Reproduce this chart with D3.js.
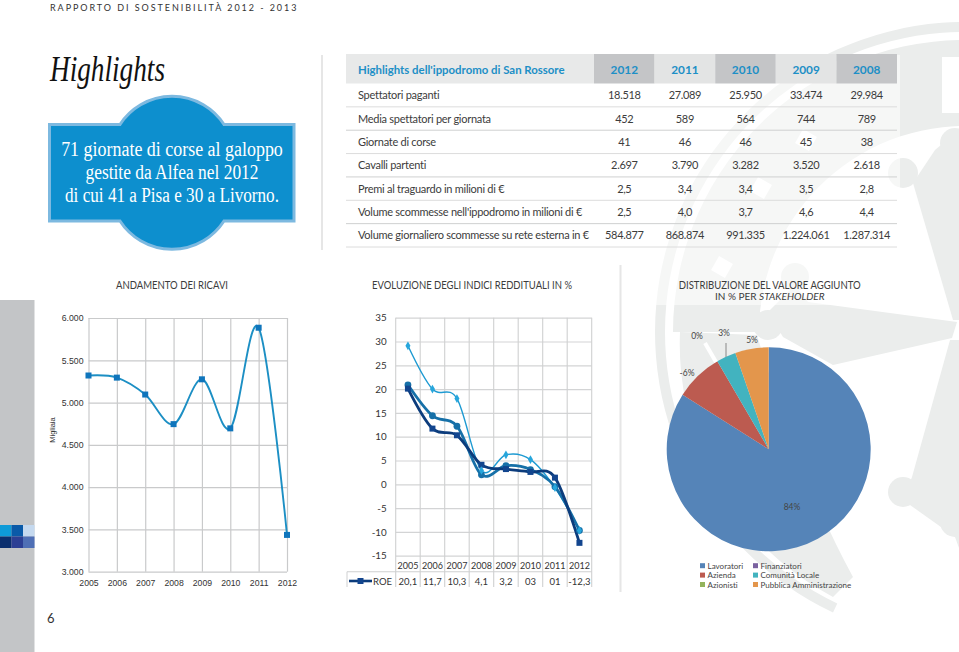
<!DOCTYPE html>
<html><head><meta charset="utf-8">
<script src="https://cdn.jsdelivr.net/npm/d3@7"></script>
<style>html,body{margin:0;padding:0;background:#fff}svg{display:block}text{font-family:Lato,sans-serif}</style>
</head><body><svg id="c" width="959" height="652"></svg>
<script>
const tableYears=["2012","2011","2010","2009","2008"];
const tableRowLabels=["Spettatori paganti","Media spettatori per giornata","Giornate di corse","Cavalli partenti","Premi al traguardo in milioni di €","Volume scommesse nell'ippodromo in milioni di €","Volume giornaliero scommesse su rete esterna in €"];
const tableValues=[["18.518","27.089","25.950","33.474","29.984"],["452","589","564","744","789"],["41","46","46","45","38"],["2.697","3.790","3.282","3.520","2.618"],["2,5","3,4","3,4","3,5","2,8"],["2,5","4,0","3,7","4,6","4,4"],["584.877","868.874","991.335","1.224.061","1.287.314"]];
const years=["2005","2006","2007","2008","2009","2010","2011","2012"];
const ricavi=[5320,5295,5095,4745,5275,4695,5885,3435];
const ricaviTicks=[3000,3500,4000,4500,5000,5500,6000];
const roe=[20.1,11.7,10.3,4.1,3.2,2.6,1.4,-12.3];
const roeLabels=["20,1","11,7","10,3","4,1","3,2","03","01","-12,3"];
const indiceB=[20.9,14.4,12.2,2.0,3.9,3.1,-0.5,-9.7];
const indiceC=[29.1,20.0,18.0,2.9,6.2,5.2,-0.7,-9.7];
const indiciTicks=[-15,-10,-5,0,5,10,15,20,25,30,35];
const pieNames=["Lavoratori","Azienda","Azionisti","Finanziatori","Comunità Locale","Pubblica Amministrazione"];
const pieValues=[84,7.6,0,0,3.1,5.3];
const pieColors=["#5584b8","#bc5b50","#93b35c","#7a62a0","#42b3bf","#e3964c"];

const svg=d3.select("#c");
const fmt=d3.format(",");
const it=n=>fmt(n).replace(/,/g,".");

/* watermark */
const wm=svg.append("g").attr("fill","#ebedec");
const wc=[965,332];
const arc=d3.arc();
function ring(r0,r1,a0,a1){wm.append("path").attr("transform",`translate(${wc})`).attr("d",arc({innerRadius:r0,outerRadius:r1,startAngle:a0,endAngle:a1}));}
ring(300,310,-Math.PI*0.86,0.1);
ring(206,292,-Math.PI*0.50,0.1);
wm.append("path").attr("d","M680 332 A285 285 0 0 0 833 597 L853 577 Q800 480 757 335Z");
wm.append("path").attr("d","M912 477L950 340L959 340L959 548L955 537L903 500Z");
wm.append("path").attr("d","M913 183L953 320L959 320L959 130L935 150Z");
wm.append("path").attr("d","M768 312L795 285L808 302L957 322L952 338L833 365L783 337Z");
[[903,173,15],[955,143,15],[795,277,14],[768,325,15],[903,492,15],[955,522,15]].forEach(d=>wm.append("circle").attr("cx",d[0]).attr("cy",d[1]).attr("r",d[2]));
const wmHoles=svg.append("g").attr("fill","#fff");
[[722,267],[761,188],[806,140]].forEach(d=>wmHoles.append("rect").attr("x",d[0]-8).attr("y",d[1]-8).attr("width",16).attr("height",16).attr("transform",`rotate(30 ${d})`));
wmHoles.append("rect").attr("x",942).attr("y",57).attr("width",17).attr("height",56);
svg.append("rect").attr("x",345).attr("y",55).attr("width",555).attr("height",250).attr("fill","#fff").attr("opacity",0.55);

/* page furniture */
svg.append("text").attr("x",50).attr("y",10.5).attr("font-size",9).attr("letter-spacing",1.95).attr("fill","#333").text("RAPPORTO DI SOSTENIBILITÀ 2012 - 2013");
svg.append("text").attr("x",50).attr("y",81).attr("font-size",36).attr("font-style","italic").attr("textLength",115).attr("lengthAdjust","spacingAndGlyphs").attr("fill","#111").style("font-family","'Liberation Serif',serif").text("Highlights");
svg.append("rect").attr("x",0).attr("y",300).attr("width",34.5).attr("height",352).attr("fill","#c3c5c7");
const swatch=[["#0e9bd8","#0a5aa8","#c5d9ef"],["#0b2f6e","#2c3f94","#4f6fb5"]];
swatch.forEach((r,i)=>r.forEach((c,j)=>svg.append("rect").attr("x",j*11.5).attr("y",525+i*11.5).attr("width",11.5).attr("height",11.5).attr("fill",c)));
svg.append("text").attr("x",47).attr("y",623).attr("font-size",13).attr("fill","#333").text("6");
svg.append("line").attr("x1",322).attr("x2",322).attr("y1",55).attr("y2",250).attr("stroke","#e6e6e6").attr("stroke-width",2);
svg.append("line").attr("x1",620.5).attr("x2",620.5).attr("y1",265).attr("y2",592).attr("stroke","#e6e6e6").attr("stroke-width",2);

/* badge */
svg.append("path").attr("d","M49.5 124.5H120A62 62 0 0 1 224 124.5H294V221H224A62 62 0 0 1 120 221H49.5Z").attr("fill","#0d8fce").attr("stroke","#7db9e0").attr("stroke-width",3);
[["71 giornate di corse al galoppo",221.7],["gestite da Alfea nel 2012",173],["di cui 41 a Pisa e 30 a Livorno.",214]].forEach((t,i)=>
 svg.append("text").attr("x",172).attr("y",156+i*23).attr("text-anchor","middle").attr("font-size",20.5).attr("textLength",t[1]).attr("lengthAdjust","spacingAndGlyphs").attr("fill","#fff").style("font-family","'Liberation Serif',serif").text(t[0]));

/* table */
const cols=d3.scaleBand().domain(tableYears).range([594,897]);
const rows=d3.scaleBand().domain(tableRowLabels).range([83.5,247]);
svg.append("rect").attr("x",346).attr("y",54).attr("width",248).attr("height",29.5).attr("fill","#e8e9e9");
tableYears.forEach((y,i)=>{
 svg.append("rect").attr("x",cols(y)).attr("y",54).attr("width",cols.bandwidth()).attr("height",29.5).attr("fill",i%2?"#e3e4e4":"#c4c5c7");
 svg.append("text").attr("x",cols(y)+cols.bandwidth()/2).attr("y",73.5).attr("text-anchor","middle").attr("font-size",11.8).attr("font-weight",700).attr("fill","#1d8fc6").text(y);
});
svg.append("text").attr("x",358).attr("y",73.5).attr("font-size",11.4).attr("font-weight",700).attr("fill","#1d8fc6").text("Highlights dell'ippodromo di San Rossore");
tableRowLabels.forEach((l,i)=>{
 const y=rows(l),b=rows.bandwidth();
 svg.append("line").attr("x1",346).attr("x2",897).attr("y1",y+b).attr("y2",y+b).attr("stroke",i%2?"#cfd0d0":"#dcdcdc").attr("stroke-width",1);
 svg.append("text").attr("x",358).attr("y",y+b/2+4).attr("font-size",11).attr("letter-spacing",-0.27).attr("fill","#3c3c3c").text(l);
 tableValues[i].forEach((v,j)=>svg.append("text").attr("x",cols(tableYears[j])+cols.bandwidth()/2).attr("y",y+b/2+4).attr("text-anchor","middle").attr("font-size",11).attr("letter-spacing",-0.35).attr("fill","#3c3c3c").text(v));
});

/* chart titles */
const ttl=(x,y,t,w)=>svg.append("text").attr("x",x).attr("y",y).attr("text-anchor","middle").attr("font-size",10.6).attr("textLength",w).attr("lengthAdjust","spacingAndGlyphs").attr("fill","#3c3c3c").text(t);
ttl(172,289,"ANDAMENTO DEI RICAVI",112);
ttl(472,289,"EVOLUZIONE DEGLI INDICI REDDITUALI IN %",200);
ttl(769.7,289,"DISTRIBUZIONE DEL VALORE AGGIUNTO",182);
svg.append("text").attr("x",769.7).attr("y",300).attr("text-anchor","middle").attr("font-size",10).attr("fill","#3c3c3c").text("IN % PER ").append("tspan").attr("font-style","italic").text("STAKEHOLDER");

/* chart 1 */
const x1=d3.scalePoint().domain(years).range([88.5,287]);
const y1=d3.scaleLinear().domain([3000,6000]).range([571.7,318]);
const g1=svg.append("g");
const ax1=g1.append("g").attr("transform","translate(88.5,0)").call(d3.axisLeft(y1).tickValues(ricaviTicks).tickFormat(it).tickSize(-198.5).tickPadding(5));
ax1.select(".domain").remove();
const ax1b=g1.append("g").attr("transform","translate(0,571.7)").call(d3.axisBottom(x1).tickSize(-253.7).tickPadding(8));
ax1b.select(".domain").remove();
[ax1,ax1b].forEach(a=>{a.selectAll("line").attr("stroke","#c9cacb").attr("stroke-width",1.2);a.selectAll("text").attr("font-size",8.7).attr("fill","#333").style("font-family","'Liberation Sans',sans-serif");});
svg.append("text").attr("transform","translate(54.5,430) rotate(-90)").attr("text-anchor","middle").attr("font-size",7.5).attr("fill","#333").style("font-family","'Liberation Sans',sans-serif").text("Migliaia");
const line1=d3.line().x((d,i)=>x1(years[i])).y(d=>y1(d)).curve(d3.curveCardinal.tension(0));
g1.append("path").attr("d",line1(ricavi)).attr("fill","none").attr("stroke","#1c8fc4").attr("stroke-width",1.9);
g1.selectAll(".p").data(ricavi).join("rect").attr("x",(d,i)=>x1(years[i])-3).attr("y",d=>y1(d)-3).attr("width",6).attr("height",6).attr("fill","#0f75bc");

/* chart 2 */
const x2=d3.scaleBand().domain(years).range([395.7,591.7]);
const y2=d3.scaleLinear().domain([-15,35]).range([555.7,317.7]);
const g2=svg.append("g");
const ax2=g2.append("g").attr("transform","translate(395.7,0)").call(d3.axisLeft(y2).tickValues(indiciTicks).tickFormat(d=>String(d)).tickSize(-196).tickPadding(9));
ax2.select(".domain").remove();
ax2.selectAll("line").attr("stroke","#d3d4d5").attr("stroke-width",1.2);
ax2.selectAll("text").attr("font-size",9.8).attr("fill","#333").style("font-family","Lato");
years.concat(["end"]).forEach((y,i)=>{
 const xx=i<8?x2(y):591.7;
 g2.append("line").attr("x1",xx).attr("x2",xx).attr("y1",317.7).attr("y2",587).attr("stroke","#cfd0d1").attr("stroke-width",1.1);
 if(i<8){
  g2.append("text").attr("x",xx+x2.bandwidth()/2).attr("y",569).attr("text-anchor","middle").attr("font-size",9).attr("fill","#333").text(y);
  g2.append("text").attr("x",xx+x2.bandwidth()/2).attr("y",585).attr("text-anchor","middle").attr("font-size",9.5).attr("fill","#333").text(roeLabels[i]);
 }
});
g2.append("line").attr("x1",347).attr("x2",591.7).attr("y1",571.7).attr("y2",571.7).attr("stroke","#cfd0d1").attr("stroke-width",1.1);
g2.append("line").attr("x1",347).attr("x2",347).attr("y1",571.7).attr("y2",587).attr("stroke","#cfd0d1");
const cx2=i=>x2(years[i])+x2.bandwidth()/2;
const line2=d3.line().x((d,i)=>cx2(i)).y(d=>y2(d)).curve(d3.curveCardinal.tension(0));
g2.append("path").attr("d",line2(indiceC)).attr("fill","none").attr("stroke","#1d9ad2").attr("stroke-width",1.4);
g2.append("path").attr("d",line2(indiceB)).attr("fill","none").attr("stroke","#1670a8").attr("stroke-width",2.8);
g2.append("path").attr("d",line2(roe)).attr("fill","none").attr("stroke","#0c3c7c").attr("stroke-width",2.8);
g2.selectAll(".b").data(indiceB).join("circle").attr("cx",(d,i)=>cx2(i)).attr("cy",d=>y2(d)).attr("r",3.4).attr("fill","#1670a8");
g2.selectAll(".r").data(roe).join("rect").attr("x",(d,i)=>cx2(i)-3).attr("y",d=>y2(d)-3).attr("width",6).attr("height",6).attr("fill","#12458e");
g2.selectAll(".c").data(indiceC).join("path").attr("d",d3.symbol(d3.symbolDiamond,22)).attr("transform",(d,i)=>`translate(${cx2(i)},${y2(d)})`).attr("fill","#27a6dc");
g2.append("line").attr("x1",349).attr("x2",372).attr("y1",581).attr("y2",581).attr("stroke","#0c3c7c").attr("stroke-width",2.6);
g2.append("rect").attr("x",357.5).attr("y",578).attr("width",6).attr("height",6).attr("fill","#12458e");
g2.append("text").attr("x",373).attr("y",585).attr("font-size",9.5).attr("fill","#333").text("ROE");

/* pie */
const pie=d3.pie().sort(null).value(d=>d)(pieValues);
const pc=[768.7,449.3];
const pa=d3.arc().innerRadius(0).outerRadius(102);
const g3=svg.append("g").attr("transform",`translate(${pc})`);
g3.selectAll("path").data(pie).join("path").attr("d",pa).attr("fill",(d,i)=>pieColors[i]);
svg.append("line").attr("x1",705).attr("y1",343).attr("x2",716).attr("y2",362).attr("stroke","#fff").attr("stroke-width",4);
svg.append("line").attr("x1",726).attr("y1",343).attr("x2",726).attr("y2",357).attr("stroke","#888").attr("stroke-width",1);
const pieLabels=[["84%",792,510],["-6%",687,376],["0%",697,339],["3%",724,335.5],["5%",752,343]];
pieLabels.forEach(d=>svg.append("text").attr("x",d[1]).attr("y",d[2]).attr("text-anchor","middle").attr("font-size",8.5).attr("fill","#444").text(d[0]));
pieNames.forEach((n,i)=>{
 const c=i<3?702:755,y=565.7+(i%3)*9.4;
 svg.append("rect").attr("x",c-2).attr("y",y-2.5).attr("width",5).attr("height",5).attr("fill",pieColors[i]);
 svg.append("text").attr("x",c+5.5).attr("y",y+3.2).attr("font-size",8).attr("letter-spacing",0.02).attr("fill","#444").text(n);
});
</script></body></html>
